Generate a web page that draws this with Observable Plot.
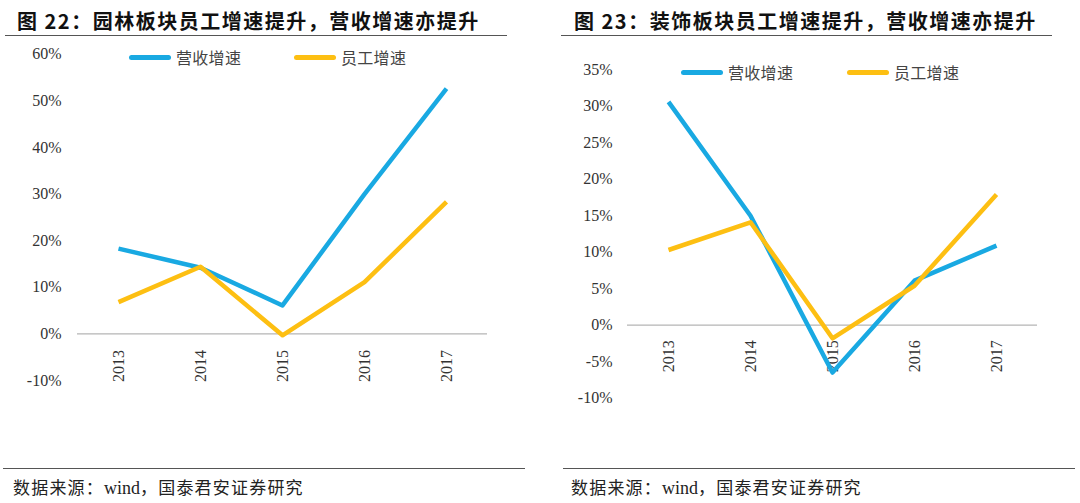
<!DOCTYPE html>
<html>
<head>
<meta charset="utf-8">
<script src="https://cdn.jsdelivr.net/npm/d3@7"></script>
<script src="https://cdn.jsdelivr.net/npm/@observablehq/plot@0.6"></script>
<style>
  html, body { margin: 0; padding: 0; background: #fff; }
  #page { position: relative; width: 1080px; height: 503px; overflow: hidden; background: #fff; }
  .abs { position: absolute; }
  .title { font-family: "Noto Sans CJK SC", sans-serif; font-weight: 700; font-size: 20px; color: #111; letter-spacing: 1.5px; white-space: nowrap; line-height: 1; }
  .hr { height: 0; border-top: 1.3px solid #555; }
  .source { font-family: "Noto Sans CJK SC", sans-serif; font-size: 17px; color: #222; white-space: nowrap; line-height: 1; letter-spacing: 1.2px; }
  .source .latin { font-family: "Liberation Serif", serif; font-size: 18px; letter-spacing: 0; }
  .legend-item { display: flex; align-items: center; font-family: "Noto Sans CJK SC", sans-serif; font-size: 16px; color: #444; white-space: nowrap; letter-spacing: 0.3px; }
  .swatch { display: inline-block; height: 5px; border-radius: 3px; margin-right: 5px; }
</style>
</head>
<body>
<div id="page"></div>
<script>
// ---- data ----
const years = ["2013", "2014", "2015", "2016", "2017"];
const seriesNames = ["营收增速", "员工增速"];
const seriesColors = ["#19A9E2", "#FDBF12"];

const gardenRevenue = [18.3, 14.2, 6.1, 30.0, 52.6];
const gardenStaff = [6.8, 14.4, -0.3, 11.1, 28.3];
const gardenTicks = [-10, 0, 10, 20, 30, 40, 50, 60];

const decoRevenue = [30.6, 15.0, -6.5, 6.1, 10.9];
const decoStaff = [10.3, 14.1, -1.8, 5.4, 17.9];
const decoTicks = [-10, -5, 0, 5, 10, 15, 20, 25, 30, 35];

const titles = ["图 22：园林板块员工增速提升，营收增速亦提升", "图 23：装饰板块员工增速提升，营收增速亦提升"];
const sourceParts = ["数据来源：", "wind", "，国泰君安证券研究"];

const page = document.getElementById("page");

function el(cls, style, text) {
  const d = document.createElement("div");
  d.className = "abs " + cls;
  Object.assign(d.style, style);
  if (text != null) d.textContent = text;
  page.appendChild(d);
  return d;
}

function buildRows(rev, staff) {
  const rows = [];
  years.forEach((y, i) => {
    rows.push({year: y, value: rev[i], series: seriesNames[0]});
    rows.push({year: y, value: staff[i], series: seriesNames[1]});
  });
  return rows;
}

function makeChart(cfg) {
  const rows = buildRows(cfg.rev, cfg.staff);
  const chart = Plot.plot({
    width: cfg.width,
    height: cfg.height,
    marginLeft: cfg.ml,
    marginRight: cfg.mr,
    marginTop: cfg.mt,
    marginBottom: cfg.mb,
    style: {fontFamily: "'Liberation Serif', serif", fontSize: "16px", color: "#333", background: "transparent", overflow: "visible"},
    x: {type: "point", domain: years, padding: 0.5, axis: null},
    y: {domain: cfg.domain, axis: null},
    color: {domain: seriesNames, range: seriesColors},
    marks: [
      Plot.axisY({ticks: cfg.ticks, tickSize: 0, tickPadding: cfg.pad, tickFormat: d => d + "%", fontSize: 16, label: null}),
      Plot.ruleY([0], {stroke: "#b5b5b5", strokeWidth: 1.3}),
      Plot.text(years, {x: d => d, y: 0, text: d => d, rotate: -90, textAnchor: "end", dy: cfg.ydy, fontSize: 16, fill: "#333"}),
      Plot.line(rows, {x: "year", y: "value", z: "series", stroke: "series", strokeWidth: 4.5, strokeLinejoin: "round", strokeLinecap: "butt"})
    ]
  });
  chart.style.position = "absolute";
  chart.style.left = cfg.left + "px";
  chart.style.top = cfg.top + "px";
  page.appendChild(chart);

  // legend (inside plot area)
  cfg.legend.forEach((lg, i) => {
    const item = el("legend-item", {left: lg[0] + "px", top: (lg[1] - 12) + "px", height: "24px"});
    const sw = document.createElement("span");
    sw.className = "swatch";
    sw.style.width = "42px";
    sw.style.background = seriesColors[i];
    item.appendChild(sw);
    const t = document.createElement("span");
    t.textContent = seriesNames[i];
    item.appendChild(t);
  });
}

function source(left, top) {
  const d = el("source", {left: left + "px", top: top + "px"});
  sourceParts.forEach((p, i) => {
    const s = document.createElement("span");
    s.textContent = p;
    if (i === 1) s.className = "latin";
    d.appendChild(s);
  });
}

// titles & rules
el("title", {left: "17px", top: "11px"}, titles[0]);
el("hr", {left: "5px", top: "35px", width: "502px"});
el("title", {left: "574px", top: "11px"}, titles[1]);
el("hr", {left: "561px", top: "35px", width: "491px"});

// left chart
makeChart({
  rev: gardenRevenue, staff: gardenStaff, ticks: gardenTicks, domain: [-10, 60],
  left: 0, top: 40, width: 520, height: 380, ml: 77, mr: 33, mt: 13.7, mb: 40, pad: 16, ydy: 16,
  legend: [[129, 57], [294, 57]]
});

// right chart
makeChart({
  rev: decoRevenue, staff: decoStaff, ticks: decoTicks, domain: [-10, 35],
  left: 540, top: 40, width: 540, height: 400, ml: 87, mr: 43, mt: 29.3, mb: 42.4, pad: 15, ydy: 15,
  legend: [[681, 72], [847, 72]]
});

// bottom rules and sources
el("hr", {left: "3px", top: "468px", width: "522px"});
source(13, 478);
el("hr", {left: "563px", top: "468px", width: "512px"});
source(571, 478);
</script>
</body>
</html>
